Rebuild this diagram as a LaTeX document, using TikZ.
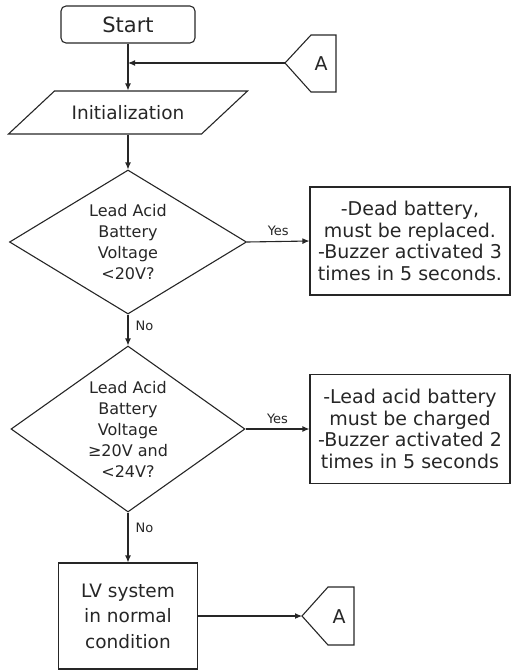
\documentclass[tikz,border=0pt]{standalone}
\usepackage{fontspec}
\setmainfont{DejaVu Sans}
\usetikzlibrary{shapes.geometric,arrows.meta}
\begin{document}
\begin{tikzpicture}[x=1pt,y=-1pt,line width=1.1pt,
  every node/.style={text=black!85},
  box/.style={draw=black!85,rectangle,inner sep=0pt,align=center},
  arr/.style={draw=black!85,-{Latex[length=7pt,width=6pt]}},
  lbl/.style={font=\fontsize{13}{15}\selectfont,inner sep=1pt},
  dtext/.style={align=center,font=\fontsize{16}{21}\selectfont},
  btext/.style={font=\fontsize{19}{21.5}\selectfont}]
\useasboundingbox (0,0) rectangle (511,670);

% Start
\node[box,rounded corners=5pt,minimum width=134pt,minimum height=37pt,
  font=\fontsize{21}{24}\selectfont] (start) at (128,24.5) {Start};

% Initialization (parallelogram)
\draw[black!85] (54.5,91) -- (247.5,91) -- (201.5,134) -- (8.5,134) -- cycle;
\node[inner sep=0pt,minimum height=43pt,font=\fontsize{18.5}{22}\selectfont] (init) at (128,112.5) {Initialization};

% Off-page connector A (top)
\draw[black!85] (285,63) -- (311,35) -- (336,35) -- (336,92) -- (311,92) -- cycle;
\coordinate (a1) at (285,63);
\node[font=\fontsize{19}{22}\selectfont] (a1t) at (321,64) {A};

% Decision 1
\node[diamond,draw=black!85,minimum width=237pt,minimum height=144pt,inner sep=0pt] (d1) at (128,242) {};
\node[dtext] (d1t) at (d1.center) {Lead Acid\\Battery\\Voltage\\<20V?};

% Box 1
\node[box,btext,minimum width=200pt,minimum height=108pt] (b1) at (410,241)
  {-Dead battery,\\must be replaced.\\-Buzzer activated 3\\times in 5 seconds.};

% Decision 2
\node[diamond,draw=black!85,minimum width=234pt,minimum height=166pt,inner sep=0pt] (d2) at (128,429) {};
\node[dtext] (d2t) at (d2.center) {Lead Acid\\Battery\\Voltage\\≥20V and\\<24V?};

% Box 2
\node[box,btext,minimum width=200pt,minimum height=109pt] (b2) at (410,429)
  {-Lead acid battery\\must be charged\\-Buzzer activated 2\\times in 5 seconds};

% Box 3
\node[box,minimum width=139pt,minimum height=106pt,font=\fontsize{18.5}{25.5}\selectfont] (b3) at (128,616)
  {LV system\\in normal\\condition};

% Off-page connector A (bottom)
\draw[black!85] (302,616) -- (328,587) -- (354,587) -- (354,645) -- (328,645) -- cycle;
\coordinate (a2) at (302,616);
\node[font=\fontsize{19}{22}\selectfont] (a2t) at (339,617) {A};

% Connectors
\coordinate (j) at (a1 -| start.south);
\draw[arr] (start.south) -- (init.north);
\draw[arr] (a1) -- (j);
\draw[arr] (init.south) -- (d1.north);
\draw[arr] (d1.east) -- node[lbl,above=4pt] {Yes} (b1.west);
\draw[arr] (d1.south) -- node[lbl,pos=.35,right=6pt] {No} (d2.north);
\draw[arr] (d2.east) -- node[lbl,above=4pt] {Yes} (b2.west);
\draw[arr] (d2.south) -- node[lbl,pos=.31,right=6pt] {No} (b3.north);
\draw[arr] (b3.east) -- (a2);
\end{tikzpicture}
\end{document}
